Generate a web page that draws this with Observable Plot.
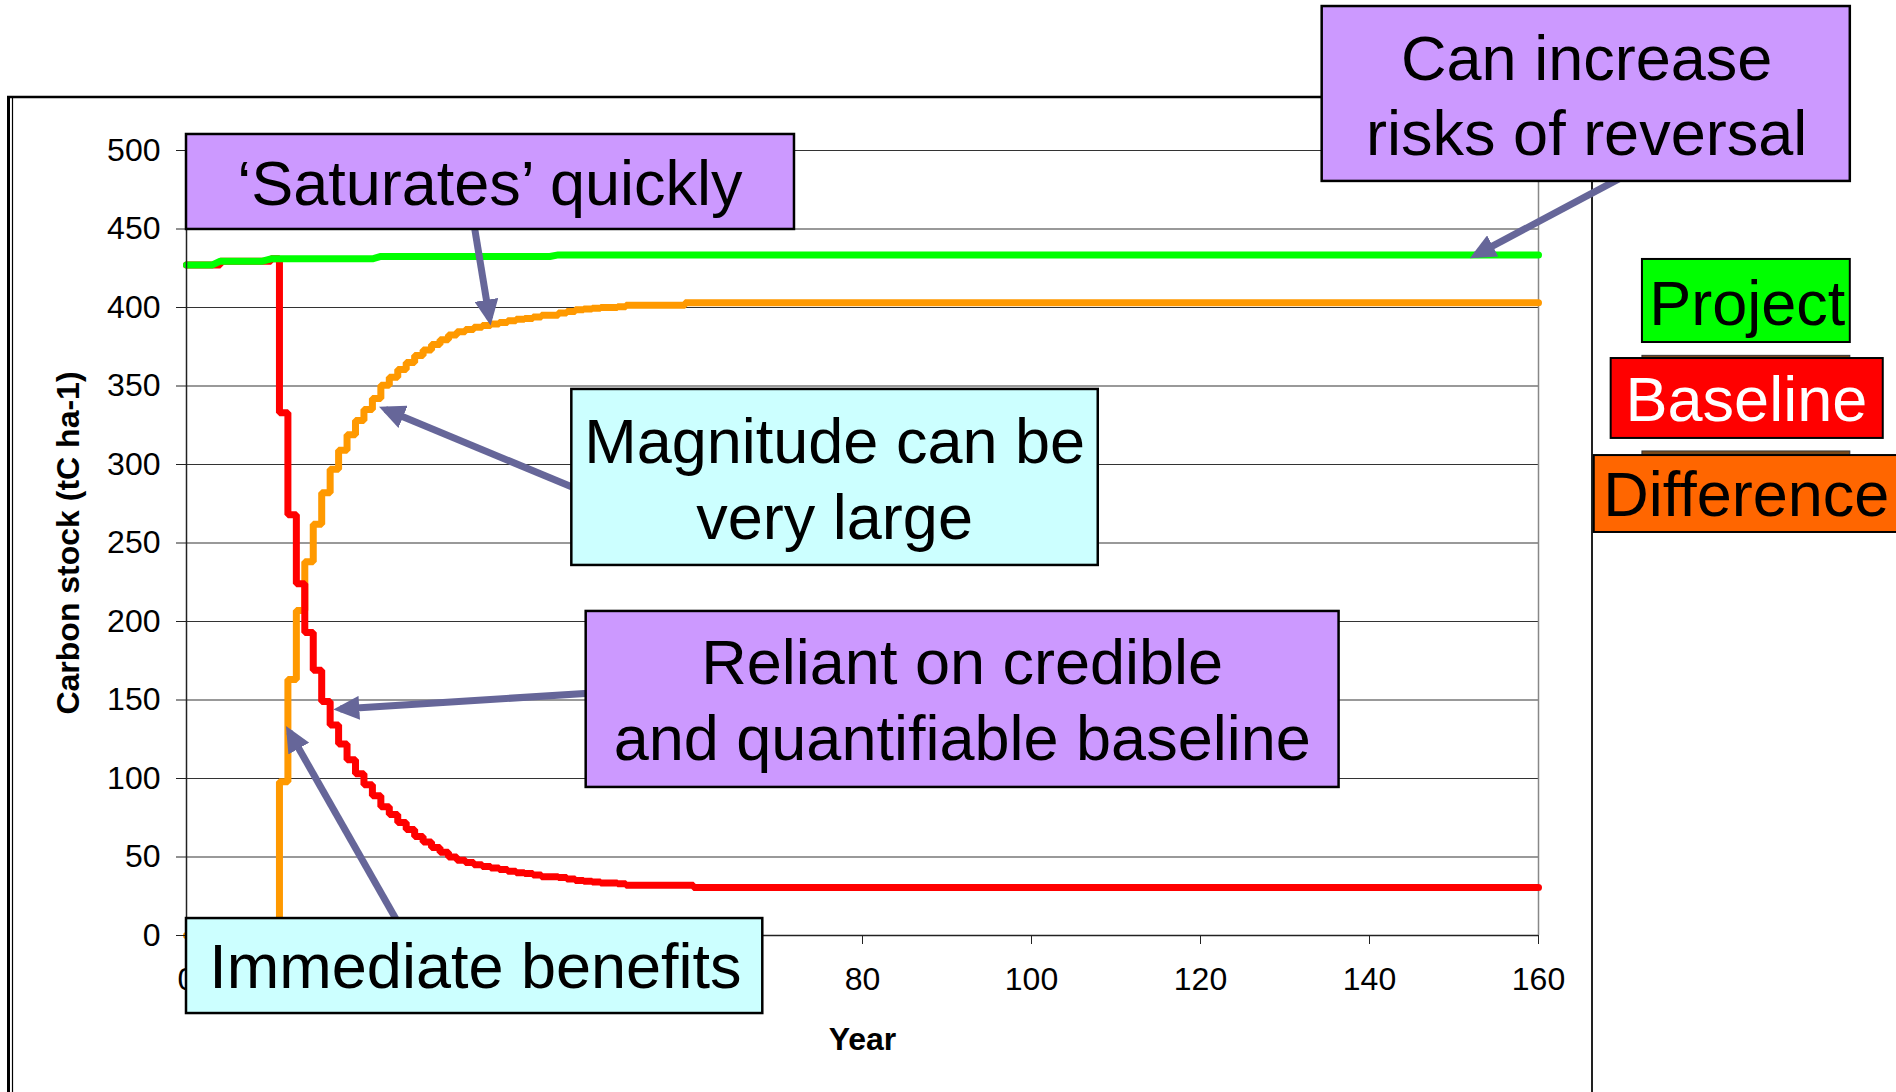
<!DOCTYPE html>
<html>
<head>
<meta charset="utf-8">
<script src="https://cdn.jsdelivr.net/npm/d3@7"></script>
<script src="https://cdn.jsdelivr.net/npm/@observablehq/plot@0.6"></script>
<style>
  html, body { margin: 0; padding: 0; background: #fff; overflow: hidden; }
  #chart { width: 1896px; height: 1092px; overflow: hidden; position: relative; }
</style>
</head>
<body>
<div id="chart"></div>
<script>
// ---------------- DATA ----------------
const xTicks = [0, 20, 40, 60, 80, 100, 120, 140, 160];
const xTicksHidden = [20, 40, 60]; // labels hidden behind the "Immediate benefits" box
const yTicks = [0, 50, 100, 150, 200, 250, 300, 350, 400, 450, 500];

// Project (green) carbon stock, tC/ha
const projectYears  = [0, 3, 4, 9, 10, 22, 23, 43, 44, 160];
const projectValues = [427, 427, 429.5, 429.5, 431, 431, 432.5, 432.5, 433.5, 433.5];

// Baseline (red) carbon stock, annual steps
const baselineYears  = [0, 4, 10, 11, 12, 13, 14, 15, 16, 17, 18, 19, 20, 21, 22, 23, 24, 25, 26, 27, 28, 29, 30,
  31, 32, 33, 34, 35, 36, 37, 38, 39, 40, 41, 42, 43, 44, 45, 46, 47, 48, 49, 50, 51, 52, 60, 160];
const baselineValues = [427, 429.5, 431, 333, 268, 224, 193, 169, 149, 134, 122, 112, 103, 96, 89, 82, 77, 72, 67.5, 63, 59.5, 56, 53,
  50, 48, 46.5, 45, 44, 43, 42, 41, 40, 39.5, 38.5, 37.5, 37.5, 37, 36, 35, 34.5, 34, 33.5, 33.5, 33, 32, 30.5, 30.5];

// Difference (orange), annual steps
const differenceYears  = [0, 11, 12, 13, 14, 15, 16, 17, 18, 19, 20, 21, 22, 23, 24, 25, 26, 27, 28, 29, 30,
  31, 32, 33, 34, 35, 36, 37, 38, 39, 40, 41, 42, 43, 44, 45, 46, 47, 48, 49, 50, 51, 52, 59, 160];
const differenceValues = [0, 98, 163, 207, 238, 262, 282, 297, 309, 319, 328, 335, 342, 350.5, 355.5, 360.5, 365, 369.5, 373, 376.5, 379.5,
  382.5, 384.5, 386, 387.5, 388.5, 389.5, 390.5, 391.5, 392.5, 393, 394, 395, 395, 396.5, 397.5, 398.5, 399, 399.5, 400, 400, 400.5, 401.5, 403, 403];

const seriesNames = ["Project", "Baseline", "Difference"];

// ---------------- ANNOTATIONS (positions in data units) ----------------
const callouts = [
  {text: "‘Saturates’ quickly", x1: 0, x2: 71.95, y1: 449.7, y2: 510.2, tx: 35.9, ty: 480.5, fill: "#cc99ff"},
  {text: "Can increase\nrisks of reversal", x1: 134.4, x2: 196.9, y1: 480.3, y2: 591.7, tx: 165.7, ty: 536.3, fill: "#cc99ff"},
  {text: "Magnitude can be\nvery large", x1: 45.6, x2: 107.9, y1: 235.7, y2: 347.8, tx: 76.7, ty: 292.2, fill: "#ccffff"},
  {text: "Reliant on credible\nand quantifiable baseline", x1: 47.3, x2: 136.4, y1: 94.3, y2: 206.4, tx: 91.8, ty: 151.5, fill: "#cc99ff"},
  {text: "Immediate benefits", x1: 0, x2: 68.2, y1: -49.7, y2: 10.8, tx: 34.2, ty: -18.2, fill: "#ccffff"}
];
const arrows = [
  {x1: 33.85, y1: 458.6, x2: 35.86, y2: 392.9},
  {x1: 170.3, y1: 484.1, x2: 152.6, y2: 433.5},
  {x1: 47.2, y1: 282.2, x2: 23.55, y2: 335},
  {x1: 49.0, y1: 154.8, x2: 18.2, y2: 144.2},
  {x1: 25.56, y1: 3.2, x2: 12.18, y2: 129.6}
];
const legendBoxes = [
  {text: "Project", x1: 172.3, x2: 196.9, y1: 377.7, y2: 430.6, tx: 184.7, ty: 401.6, fill: "#00ff00", color: "#000"},
  {text: "Baseline", x1: 168.6, x2: 200.8, y1: 316.6, y2: 367.5, tx: 184.6, ty: 340.5, fill: "#ff0000", color: "#fff"},
  {text: "Difference", x1: 166.6, x2: 203.5, y1: 256.7, y2: 305.7, tx: 184.6, ty: 280, fill: "#ff6600", color: "#000"}
];
const legendBacks = [
  {x1: 172.3, x2: 196.9, y1: 362, y2: 369.2},
  {x1: 172.3, x2: 196.9, y1: 300, y2: 308.3}
];

// ---------------- BUILD ----------------
const toRows = (xs, vs) => xs.map((x, i) => ({year: x, value: vs[i]}));
const projectData = toRows(projectYears, projectValues);
const baselineData = toRows(baselineYears, baselineValues);
const differenceData = toRows(differenceYears, differenceValues);

const FONT = "'Liberation Sans', Arial, Helvetica, sans-serif";

const plot = Plot.plot({
  width: 1896,
  height: 1092,
  marginLeft: 186,
  marginRight: 358,
  marginTop: 150,
  marginBottom: 157,
  x: {domain: [0, 160]},
  y: {domain: [0, 500]},
  style: {fontFamily: FONT, fontSize: "32px", color: "#000", background: "transparent", overflow: "visible"},
  marks: [
    Plot.gridY(yTicks, {stroke: "#000", strokeOpacity: 0.8, strokeWidth: 1}),
    Plot.ruleX([160], {stroke: "#888", strokeWidth: 1.5}),
    Plot.line(differenceData, {x: "year", y: "value", curve: "step-after", stroke: "#ff9900", strokeWidth: 7, strokeLinejoin: "miter"}),
    Plot.line(baselineData, {x: "year", y: "value", curve: "step-after", stroke: "#ff0000", strokeWidth: 7, strokeLinejoin: "miter"}),
    Plot.line(projectData, {x: "year", y: "value", curve: "linear", stroke: "#00ff00", strokeWidth: 7}),
    Plot.ruleX([0], {stroke: "#222", strokeWidth: 1.5}),
    Plot.ruleY([0], {stroke: "#222", strokeWidth: 1.5}),
    Plot.axisY(yTicks, {tickSize: 10, tickPadding: 16, label: null, fontSize: 32, stroke: "#222"}),
    Plot.axisX(xTicks, {tickSize: 9, tickPadding: 23, label: null, fontSize: 32, stroke: "#222",
      tickFormat: (d) => xTicksHidden.includes(d) ? "" : String(d)}),
    Plot.text(["Year"], {x: 80, y: -66.5, fontWeight: "bold", fontSize: 32, fontFamily: FONT, fill: "#000"}),
    Plot.text(["Carbon stock (tC ha-1)"], {x: -13.9, y: 250, rotate: -90, fontWeight: "bold", fontSize: 32, fontFamily: FONT, fill: "#000"}),
    // arrows
    Plot.link(arrows, {x1: "x1", y1: "y1", x2: "x2", y2: "y2", stroke: "#666699", strokeWidth: 7}),
    // callout boxes
    Plot.rect(callouts, {x1: "x1", x2: "x2", y1: "y1", y2: "y2", fill: "fill", stroke: "#000", strokeWidth: 2.5}),
    Plot.text(callouts, {x: "tx", y: "ty", text: "text", fontSize: 63, lineHeight: 1.2, fontFamily: FONT, fill: "#000"}),
    // legend boxes
    Plot.rect(legendBacks, {x1: "x1", x2: "x2", y1: "y1", y2: "y2", fill: "#7a4a1a", stroke: "#333", strokeWidth: 1}),
    Plot.rect(legendBoxes, {x1: "x1", x2: "x2", y1: "y1", y2: "y2", fill: "fill", stroke: "#000", strokeWidth: 2}),
    Plot.text(legendBoxes, {x: "tx", y: "ty", text: "text", fontSize: 63, fontFamily: FONT, fill: "color"})
  ]
});

// filled arrowheads and outer chart frame
const svg = d3.select(plot);
const defs = svg.insert("defs", ":first-child");
defs.append("marker")
  .attr("id", "ahead")
  .attr("viewBox", "0 -12 26 24")
  .attr("markerUnits", "userSpaceOnUse")
  .attr("markerWidth", 26)
  .attr("markerHeight", 24)
  .attr("refX", 19)
  .attr("refY", 0)
  .attr("orient", "auto")
  .append("path")
  .attr("d", "M0,-12L26,0L0,12Z")
  .attr("fill", "#666699");
svg.selectAll('g[aria-label="link"] path').attr("marker-end", "url(#ahead)").attr("stroke-linecap", "butt");

const frame = svg.insert("g", "defs + *").attr("fill", "none");
frame.append("line").attr("x1", 7).attr("x2", 1592).attr("y1", 97).attr("y2", 97).attr("stroke", "#000").attr("stroke-width", 2.5);
frame.append("line").attr("x1", 8.5).attr("x2", 8.5).attr("y1", 96).attr("y2", 1092).attr("stroke", "#000").attr("stroke-width", 3);
frame.append("line").attr("x1", 12.5).attr("x2", 12.5).attr("y1", 97).attr("y2", 1092).attr("stroke", "#000").attr("stroke-width", 1.2);
frame.append("line").attr("x1", 1592).attr("x2", 1592).attr("y1", 96).attr("y2", 1092).attr("stroke", "#222").attr("stroke-width", 2);

document.getElementById("chart").appendChild(plot);
</script>
</body>
</html>
